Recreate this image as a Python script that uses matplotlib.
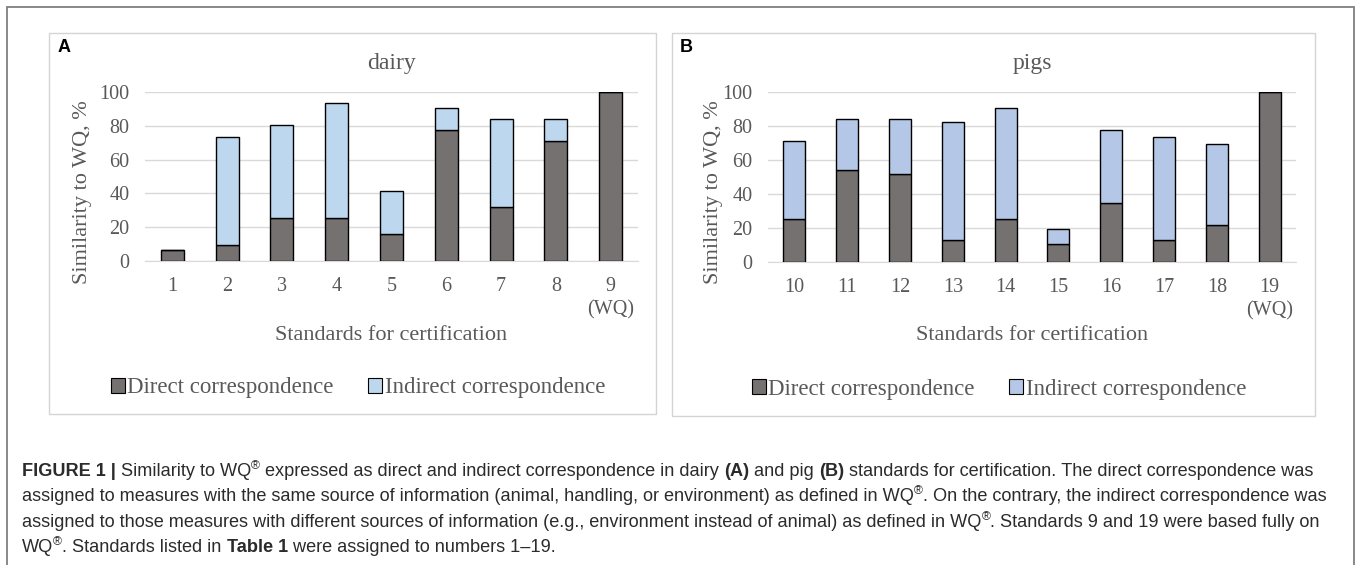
import matplotlib
matplotlib.use("Agg")
import matplotlib.pyplot as plt
from matplotlib.patches import Rectangle, Patch
import numpy as np

# data
dairy_labels = ["1", "2", "3", "4", "5", "6", "7", "8", "9\n(WQ)"]
dairy_direct = [6.5, 9.5, 25.5, 25.5, 16, 77.5, 32, 71, 100]
dairy_total = [6.5, 73.5, 80.5, 93.5, 41.5, 90.5, 84, 84, 100]

pig_labels = ["10", "11", "12", "13", "14", "15", "16", "17", "18", "19\n(WQ)"]
pig_direct = [25.5, 54, 52, 13, 25.5, 10.5, 34.5, 13, 21.5, 100]
pig_total = [71.5, 84.5, 84.5, 82.5, 91, 19.5, 78, 73.5, 69.5, 100]

DIRECT = "#767171"
GREY_TXT = "#595959"
GRID = "#d9d9d9"
SERIF = "Liberation Serif"
W, H = 1357, 565

fig = plt.figure(figsize=(W / 100, H / 100), dpi=100)


def px(x0, y0, x1, y1):
    # pixel box (top-left origin) -> figure fraction rect
    return [x0 / W, 1 - y1 / H, (x1 - x0) / W, (y1 - y0) / H]


def panel(rect, labels, direct, total, light, title, legend_xy):
    ax = fig.add_axes(rect)
    x = np.arange(len(labels))
    indirect = np.array(total) - np.array(direct)
    ax.bar(x, direct, width=0.42, color=DIRECT, edgecolor="black", linewidth=1, zorder=3)
    ax.bar(x, indirect, bottom=direct, width=0.42, color=light, edgecolor="black",
           linewidth=1, zorder=3)
    ax.set_xlim(-0.5, len(labels) - 0.5)
    ax.set_ylim(0, 100)
    ax.set_yticks(range(0, 101, 20))
    ax.set_xticks(x)
    ax.set_xticklabels(labels, linespacing=1.3)
    ax.yaxis.grid(True, color=GRID, linewidth=1, zorder=0)
    for s in ["left", "right", "top"]:
        ax.spines[s].set_visible(False)
    ax.spines["bottom"].set_color(GRID)
    ax.tick_params(length=0, labelsize=14.5, labelcolor=GREY_TXT)
    ax.tick_params(axis="y", pad=11)
    ax.tick_params(axis="x", pad=11.5)
    for t in ax.get_xticklabels() + ax.get_yticklabels():
        t.set_fontfamily(SERIF)
    ax.set_title(title, fontsize=17, color=GREY_TXT, family=SERIF, pad=17)
    handles = [Patch(facecolor=DIRECT, edgecolor="black", linewidth=0.8),
               Patch(facecolor=light, edgecolor="black", linewidth=0.8)]
    fig.legend(handles, ["Direct correspondence", "Indirect correspondence"],
               loc="center", bbox_to_anchor=legend_xy, ncol=2, frameon=False,
               prop={"family": SERIF, "size": 16.5}, labelcolor=GREY_TXT,
               handlelength=0.62, handleheight=0.62, handletextpad=0.1,
               columnspacing=1.5)
    return ax


axA = panel(px(145, 92.3, 638, 260.7), dairy_labels, dairy_direct, dairy_total,
            "#bdd7ee", "dairy", (358 / W, 1 - 388 / H))
axB = panel(px(768, 92.3, 1296, 261.7), pig_labels, pig_direct, pig_total,
            "#b4c7e7", "pigs", (999 / W, 1 - 389 / H))

for cx, cy, lx in [(83, 192, 391), (713, 192, 1032)]:
    fig.text(cx / W, 1 - cy / H, "Similarity to WQ, %", rotation=90, ha="center",
             va="center", family=SERIF, fontsize=16, color=GREY_TXT)
    fig.text(lx / W, 1 - 336 / H, "Standards for certification", ha="center",
             va="center", family=SERIF, fontsize=16, color=GREY_TXT)

# panel frames and outer frame
for (x0, y0, x1, y1) in [(49, 33, 656, 414), (672, 33, 1315, 416)]:
    fig.patches.append(Rectangle((x0 / W, 1 - y1 / H), (x1 - x0) / W, (y1 - y0) / H,
                                 transform=fig.transFigure, fill=False,
                                 edgecolor="#d4d4d4", linewidth=1))
fig.patches.append(Rectangle((7 / W, -0.05), (1354 - 7) / W, 1.05 - 7 / H,
                             transform=fig.transFigure, fill=False,
                             edgecolor="#7f7f7f", linewidth=1.3))

fig.text(58 / W, 1 - 48 / H, "A", family="Liberation Sans", weight="bold",
         fontsize=13, va="center")
fig.text(680 / W, 1 - 48 / H, "B", family="Liberation Sans", weight="bold",
         fontsize=13, va="center")

# caption with mixed styles
CAP = "#2b2b2b"
R = "®"
caption = [
    [("FIGURE 1 |", "b"), (" Similarity to WQ", "n"), (R, "s"),
     (" expressed as direct and indirect correspondence in dairy ", "n"), ("(A)", "b"),
     (" and pig ", "n"), ("(B)", "b"),
     (" standards for certification. The direct correspondence was", "n")],
    [("assigned to measures with the same source of information (animal, handling, "
      "or environment) as defined in WQ", "n"), (R, "s"),
     (". On the contrary, the indirect correspondence was", "n")],
    [("assigned to those measures with different sources of information (e.g., "
      "environment instead of animal) as defined in WQ", "n"), (R, "s"),
     (". Standards 9 and 19 were based fully on", "n")],
    [("WQ", "n"), (R, "s"), (". Standards listed in ", "n"), ("Table 1", "b"),
     (" were assigned to numbers 1\u201319.", "n")],
]
renderer = fig.canvas.get_renderer()
for i, line in enumerate(caption):
    xpix = 22
    ybase = 476 + i * 25.3
    for txt, st in line:
        size = 8.8 if st == "s" else 13.05
        dy = -7 if st == "s" else 0
        t = fig.text(xpix / W, 1 - (ybase + dy) / H, txt.replace(" ", "\u00a0"),
                     family="Liberation Sans", fontsize=size, color=CAP,
                     weight="bold" if st == "b" else "normal", va="baseline")
        xpix += t.get_window_extent(renderer).width

fig.savefig("out.png", dpi=100)
